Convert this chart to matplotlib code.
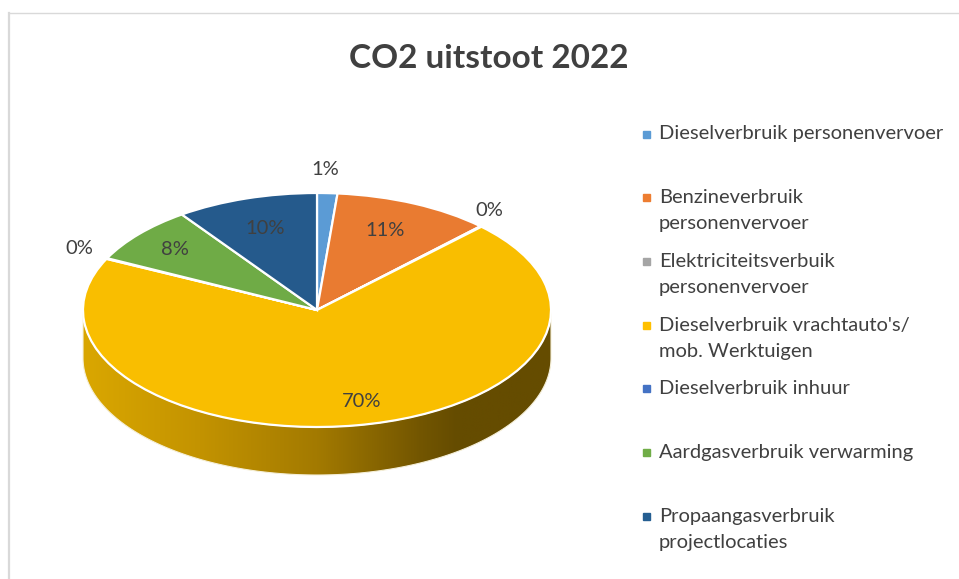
import numpy as np
import matplotlib
matplotlib.use("Agg")
import matplotlib.pyplot as plt
from matplotlib.patches import Polygon
from matplotlib.colors import LinearSegmentedColormap

plt.rcParams['font.family'] = ['Lato', 'DejaVu Sans']

# ---- data ----
categories = [
    "Dieselverbruik personenvervoer",
    "Benzineverbruik\npersonenvervoer",
    "Elektriciteitsverbuik\npersonenvervoer",
    "Dieselverbruik vrachtauto's/\nmob. Werktuigen",
    "Dieselverbruik inhuur",
    "Aardgasverbruik verwarming",
    "Propaangasverbruik\nprojectlocaties",
]
values = [1.4, 10.9, 0.1, 69.8, 0.1, 7.9, 9.8]
title = "CO2 uitstoot 2022"

# ---- style ----
top_colors = ["#5B9BD5", "#E97B31", "#A5A5A5", "#F9BE00", "#4472C4", "#6FAB46", "#255A8C"]
legend_colors = ["#5B9BD5", "#ED7D31", "#A5A5A5", "#FFC000", "#4472C4", "#70AD47", "#255E91"]
label_radius = [1.2, 0.73, 1.08, 0.82, 1.12, 0.8, 0.73]
label_shift_px = [(-4, 0), (-3, 2), (-5, 9), (12, 3), (-2, 4), (0, 0), (0, 0)]
text_color = "#404040"

W, H = 959, 579
fig = plt.figure(figsize=(W / 100, H / 100), dpi=100)
fig.patch.set_facecolor("white")

def fx(x):
    return x / W

def fy(y):
    return 1 - y / H

# border
fig.add_artist(plt.Line2D([fx(9), fx(9)], [fy(12.5), 0], color="#D9D9D9", lw=1.6))
fig.add_artist(plt.Line2D([fx(9), 1], [fy(12.5), fy(12.5)], color="#D9D9D9", lw=1.0))

# pie geometry (pixels)
cx, cy, rx, ry, depth_px = 317, 310, 234, 117, 48
ax = fig.add_axes([0, 0, 1, 1])
wedges, _ = ax.pie(values, colors=top_colors, startangle=90, counterclock=False,
                   radius=1, wedgeprops=dict(edgecolor="white", linewidth=1.6))
for w in wedges:
    w.set_zorder(3)
ax.set_aspect("auto")
ax.set_xlim(-cx / rx, (W - cx) / rx)
ax.set_ylim(-(H - cy) / ry, cy / ry)
ax.axis("off")

d = depth_px / ry
t = np.linspace(np.pi, 2 * np.pi, 300)
top = np.column_stack([np.cos(t), np.sin(t)])
bot = np.column_stack([np.cos(t[::-1]), np.sin(t[::-1]) - d])
side = Polygon(np.vstack([top, bot]), closed=True, facecolor="none",
               edgecolor="#F5EFD8", lw=0.8, zorder=2)
ax.add_patch(side)
cmap = LinearSegmentedColormap.from_list(
    "side", [(0.0, "#DAA700"), (0.25, "#C39300"), (0.5, "#A37A00"),
             (0.72, "#735600"), (0.8, "#654C00"), (1.0, "#654C00")])
grad = np.linspace(0, 1, 512)[None, :]
im = ax.imshow(grad, cmap=cmap, extent=[-1, 1, -1 - d, 0], aspect="auto", zorder=1.5)
im.set_clip_path(side)

# data labels
cum = np.cumsum([0] + values[:-1])
total = sum(values)
for v, c0, r, (sx, sy) in zip(values, cum, label_radius, label_shift_px):
    mid = np.deg2rad(90 - (c0 + v / 2) / total * 360)
    ax.text(r * np.cos(mid) + sx / rx, r * np.sin(mid) + sy / ry,
            f"{round(v / total * 100):.0f}%",
            ha="center", va="center", fontsize=14.5, color=text_color, zorder=5)

# title
fig.text(fx(489), fy(58), title, ha="center", va="center", fontsize=24,
         fontweight="bold", color=text_color)

# legend
for i, (lab, col) in enumerate(zip(categories, legend_colors)):
    y0 = 134 + i * 63.7
    fig.patches.append(plt.Rectangle((fx(643), fy(y0 + 3.5)), 7 / W, 7 / H,
                                     transform=fig.transFigure, color=col, figure=fig))
    for j, line in enumerate(lab.split("\n")):
        fig.text(fx(659), fy(y0 + 26 * j), line, ha="left", va="center",
                 fontsize=14.5, color=text_color)

fig.savefig("out.png", dpi=100, facecolor="white")
